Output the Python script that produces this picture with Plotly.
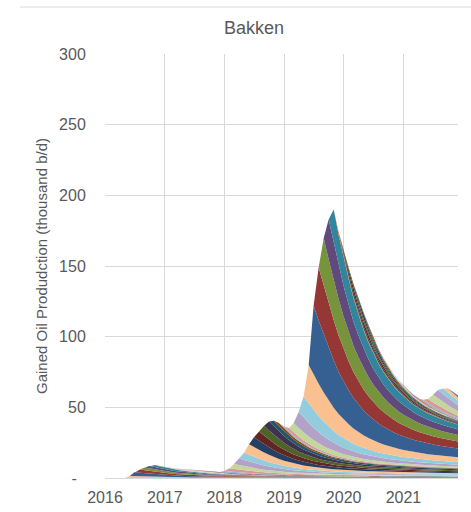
import plotly.graph_objects as go

# Monthly timeline of the Bakken play, Jan 2016 - Dec 2021
months = [f"{y}-{m:02d}-01" for y in range(2016, 2022) for m in range(1, 13)]

# Initial gained production (thousand b/d) of each monthly vintage, indexed by start month
cohort_start_rate = [
    0, 0, 0, 0, 0, 1.5, 2.6, 2.3, 2.0, 1.7, 1.5, 0.2,            # 2016
    0.1, 0.3, 0.3, 0.3, 0.3, 0.3, 0.2, 0.2, 0.2, 0.2, 0.1, 0.1,  # 2017
    1.0, 2.4, 3.5, 4.8, 5.1, 7.5, 7.0, 6.5, 7.0, 6.3, 4.2, 2.3,  # 2018
    1.2, 2.4, 6.8, 11.5, 15.1, 27.0, 48.8, 37.4, 34.0, 28.2, 23.7, 2.0,  # 2019
    3.0, 3.5, 3.0, 2.5, 2.0, 1.1, 0.4, 0.4, 0.3, 0.3, 0.3, 0.3,  # 2020
    0.3, 0.3, 0.3, 0.4, 1.5, 3.0, 5.5, 6.0, 4.0, 3.0, 0.8, 0.5,  # 2021
]

# Share of a vintage's initial rate still produced after N months on line
decline_profile = [
    1, 0.92, 0.84, 0.76, 0.69, 0.61, 0.545, 0.49, 0.445, 0.4,
    0.362, 0.33, 0.302, 0.278, 0.257, 0.239, 0.223, 0.209, 0.197, 0.186,
    0.177, 0.169, 0.162, 0.156, 0.15, 0.145, 0.14, 0.136, 0.132, 0.128,
    0.125, 0.122, 0.119, 0.116, 0.113, 0.111, 0.109, 0.107, 0.105, 0.103,
    0.101, 0.099, 0.098, 0.096, 0.095, 0.093, 0.092, 0.091, 0.09, 0.089,
    0.088, 0.087, 0.086, 0.085, 0.084, 0.083, 0.082, 0.081, 0.08, 0.079,
    0.078, 0.077, 0.076, 0.075, 0.074, 0.073, 0.072, 0.071, 0.07, 0.069,
    0.068, 0.067,
]

year_ticks = ["2016-01-01", "2017-01-01", "2018-01-01", "2019-01-01", "2020-01-01", "2021-01-01"]
year_labels = ["2016", "2017", "2018", "2019", "2020", "2021"]
y_ticks = [0, 50, 100, 150, 200, 250, 300]
y_labels = ["-\u00a0\u00a0", "50", "100", "150", "200", "250", "300"]

# Office-style palette: lighter tints and two depths of shades per accent colour
LIGHT = ["#95B3D7", "#D99694", "#C3D69B", "#B3A2C7", "#93CDDD", "#FAC090"]
SHADE25 = ["#376092", "#953735", "#77933C", "#604A7B", "#31859C", "#E46C0A"]
SHADE50 = ["#244062", "#632523", "#4F6228", "#3F3151", "#215968", "#974806"]
SECOND_HALF = {2016: SHADE25, 2017: SHADE50, 2018: SHADE50,
               2019: SHADE25, 2020: SHADE50, 2021: SHADE25}
MONTH_SHIFT = {2020: 6, 2021: 4}


def vintage_colour(idx):
    year = 2016 + idx // 12
    pos = (idx % 12 - MONTH_SHIFT.get(year, 0)) % 12
    return LIGHT[pos] if pos < 6 else SECOND_HALF[year][pos - 6]


fig = go.Figure()
n = len(months)
for start, rate in enumerate(cohort_start_rate):
    if rate <= 0:
        continue
    values = [rate * decline_profile[m - start] if m >= start else 0 for m in range(n)]
    colour = vintage_colour(start)
    fig.add_trace(go.Scatter(
        x=months, y=values, mode="lines", stackgroup="vintages",
        line=dict(width=0, color=colour), fillcolor=colour,
        name=months[start][:7], showlegend=False, hoverinfo="skip",
    ))

FONT = "Liberation Sans, Arial, sans-serif"
GREY_TEXT = "#595959"
GRID = "#d9d9d9"

fig.update_layout(
    width=471, height=512, autosize=False,
    margin=dict(l=105, r=13, t=54, b=34),
    paper_bgcolor="white", plot_bgcolor="white",
    font=dict(family=FONT, color=GREY_TEXT, size=16),
    showlegend=False,
)
fig.update_xaxes(
    type="date", range=["2016-01-01", "2021-12-01"],
    tickvals=year_ticks, ticktext=year_labels,
    showgrid=True, gridcolor=GRID, gridwidth=1,
    showline=True, linecolor=GRID, linewidth=1,
    ticks="outside", ticklen=5, tickcolor="rgba(0,0,0,0)",
    tickfont=dict(size=16, color=GREY_TEXT), zeroline=False,
    automargin=False,
)
fig.update_yaxes(
    range=[0, 300], tickvals=y_ticks, ticktext=y_labels,
    showgrid=True, gridcolor=GRID, gridwidth=1,
    showline=False, zeroline=False,
    ticks="outside", ticklen=15, tickcolor="rgba(0,0,0,0)",
    tickfont=dict(size=16, color=GREY_TEXT),
    automargin=False,
)

# Chart frame line, title and rotated axis caption
fig.add_shape(type="line", xref="paper", yref="paper",
              x0=-0.241, x1=1.04, y0=1.1108, y1=1.1108,
              line=dict(color=GRID, width=1))
fig.add_annotation(text="Bakken", xref="paper", yref="paper",
                   x=0.4221, y=1.0613, xanchor="center", yanchor="middle",
                   showarrow=False, font=dict(size=18, color=GREY_TEXT, family=FONT))
fig.add_annotation(text="Gained Oil Produdction (thousand b/d)", xref="paper", yref="paper",
                   x=-0.1813, y=0.5, xanchor="center", yanchor="middle", textangle=-90,
                   showarrow=False, font=dict(size=15, color=GREY_TEXT, family=FONT))

fig.write_html("out.html")
